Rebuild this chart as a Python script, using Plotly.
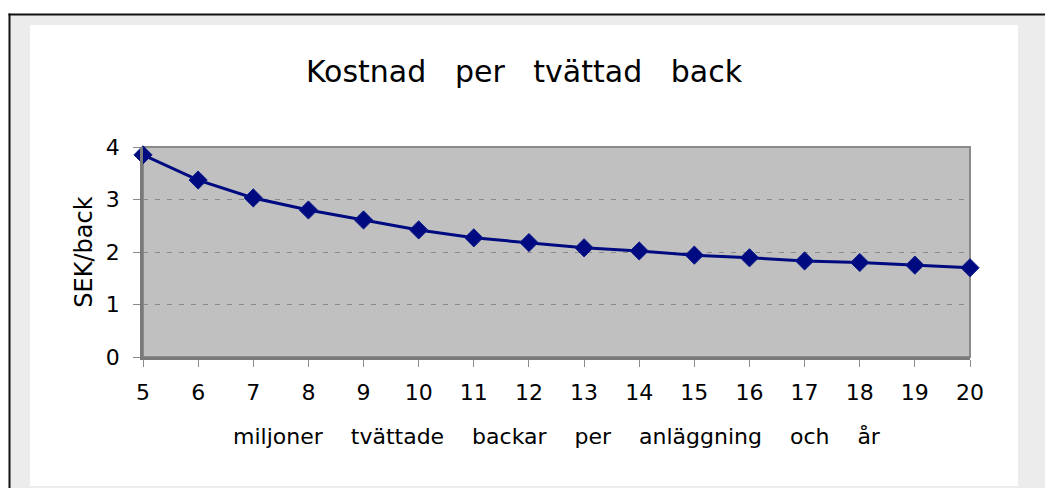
import plotly.graph_objects as go

# Data
volumes = [5, 6, 7, 8, 9, 10, 11, 12, 13, 14, 15, 16, 17, 18, 19, 20]
cost_per_crate = [3.85, 3.37, 3.03, 2.80, 2.61, 2.42, 2.27, 2.18, 2.08, 2.02,
                  1.94, 1.89, 1.83, 1.80, 1.75, 1.70]
y_ticks = [0, 1, 2, 3, 4]

title_text = "Kostnad per tvättad back"
x_title_text = "miljoner tvättade backar per anläggning och år"
y_title_text = "SEK/back"

# the page body adds an 8px margin; figure coordinates = screen - 8
OFF = 8
W, H = 1053, 488 - OFF
L, R, T, B = 143 - OFF, 970 - OFF, 147 - OFF, 357 - OFF  # plot area


def px(x):
    return (x - OFF - L) / (R - L)


def py(y):
    return (B - (y - OFF)) / (B - T)


def spaced(s, n):
    return ("\u00a0" * n).join(s.split(" "))


FONT = "DejaVu Sans"
NAVY = "#000a80"

fig = go.Figure()
fig.add_trace(go.Scatter(
    x=volumes, y=cost_per_crate, mode="lines+markers",
    line=dict(color=NAVY, width=3),
    marker=dict(symbol="diamond", size=14, color=NAVY,
                line=dict(color="#0a1a8a", width=1)),
    cliponaxis=False, showlegend=False,
))

shapes = [
    # outer light-gray frame
    dict(type="rect", xref="paper", yref="paper",
         x0=px(10), x1=px(1070), y0=py(495), y1=py(15),
         fillcolor="#ececec", line=dict(width=0), layer="below"),
    # black border lines (left and top)
    dict(type="line", xref="paper", yref="paper",
         x0=px(9.5), x1=px(9.5), y0=py(495), y1=py(13.5),
         line=dict(color="#111111", width=2), layer="below"),
    dict(type="line", xref="paper", yref="paper",
         x0=px(8.5), x1=px(1070), y0=py(14.5), y1=py(14.5),
         line=dict(color="#111111", width=2), layer="below"),
    # white chart panel
    dict(type="rect", xref="paper", yref="paper",
         x0=px(30), x1=px(1018), y0=py(486), y1=py(25),
         fillcolor="white", line=dict(width=0), layer="below"),
    # gray plot area
    dict(type="rect", xref="paper", yref="paper",
         x0=0, x1=1, y0=0, y1=1,
         fillcolor="#c0c0c0", line=dict(color="#8a8a8a", width=2), layer="below"),
]

fig.update_layout(
    width=W, height=H,
    margin=dict(l=L, r=W - R, t=T, b=H - B, pad=0),
    paper_bgcolor="white",
    plot_bgcolor="#c0c0c0",
    font=dict(family=FONT, color="black", size=22),
    title=dict(text=spaced(title_text, 3), x=(524 - OFF) / W, xref="container",
               xanchor="center", y=1 - (71 - OFF) / H, yref="container",
               yanchor="middle", font=dict(family=FONT, size=30, color="black")),
    shapes=shapes,
    showlegend=False,
)

fig.update_xaxes(
    range=[5, 20], tickmode="array", tickvals=volumes,
    ticktext=[str(v) for v in volumes],
    showgrid=False, zeroline=False,
    showline=True, linecolor="#7a7a7a", linewidth=2.5,
    ticks="outside", ticklen=7, tickcolor="#8a8a8a", tickwidth=1,
    ticklabelstandoff=7,
    tickfont=dict(family=FONT, size=22, color="black"),
    title=dict(text=spaced(x_title_text, 4), standoff=25,
               font=dict(family=FONT, size=22, color="black")),
)

fig.update_yaxes(
    range=[0, 4], tickmode="array", tickvals=y_ticks,
    ticktext=[str(v) for v in y_ticks],
    showgrid=True, gridcolor="#8a8a8a", gridwidth=1, griddash="5px,7px",
    zeroline=False,
    showline=True, linecolor="#7a7a7a", linewidth=2.5,
    ticks="outside", ticklen=7, tickcolor="#8a8a8a", tickwidth=1,
    ticklabelstandoff=9,
    tickfont=dict(family=FONT, size=22, color="black"),
    title=dict(text=y_title_text, standoff=7,
               font=dict(family=FONT, size=24, color="black")),
)

fig.write_html("out.html")
